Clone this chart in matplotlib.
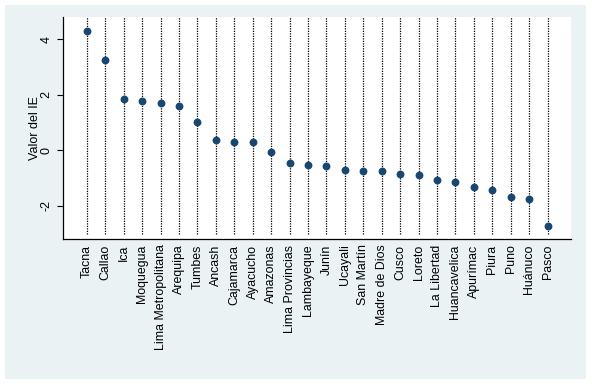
import matplotlib
matplotlib.use("Agg")
import matplotlib.pyplot as plt

regiones = ["Tacna", "Callao", "Ica", "Moquegua", "Lima Metropolitana", "Arequipa",
            "Tumbes", "Ancash", "Cajamarca", "Ayacucho", "Amazonas", "Lima Provincias",
            "Lambayeque", "Junín", "Ucayali", "San Martín", "Madre de Dios", "Cusco",
            "Loreto", "La Libertad", "Huancavelica", "Apurímac", "Piura", "Puno",
            "Huánuco", "Pasco"]
valores = [4.29, 3.25, 1.86, 1.77, 1.71, 1.58,
           1.01, 0.37, 0.31, 0.30, -0.06, -0.45,
           -0.52, -0.56, -0.72, -0.73, -0.74, -0.85,
           -0.90, -1.06, -1.15, -1.31, -1.42, -1.67,
           -1.74, -2.72]
yticks = [-2, 0, 2, 4]

plt.rcParams['font.family'] = ['Liberation Sans', 'DejaVu Sans']
W, H = 592, 384
fig = plt.figure(figsize=(W / 100, H / 100), dpi=100)
fig.patch.set_facecolor("white")
bg = "#EAF2F3"
bgax = fig.add_axes([5 / W, 1 - 379 / H, 581 / W, 374 / H], zorder=-5)
bgax.set_facecolor(bg)
bgax.set_xticks([])
bgax.set_yticks([])
for s in bgax.spines.values():
    s.set_visible(False)

ax = fig.add_axes([63 / W, 1 - 239 / H, (571 - 63) / W, (239 - 17) / H], zorder=1)
ax.set_facecolor("white")
ax.patch.set_linewidth(0)

ylo, yhi = -3.19, 4.795
x = list(range(len(regiones)))
ax.vlines(x, -3.0, yhi, colors="black", linestyles=(0, (1, 1)), linewidth=0.9, zorder=1)
ax.scatter(x, valores, s=32, color="#1A476F", zorder=3, linewidths=0)

ax.set_xlim(-1.29, 26.27)
ax.set_ylim(ylo, yhi)
ax.set_xticks(x)
ax.set_xticklabels(regiones, rotation=90, fontsize=8.9)
ax.tick_params(axis="x", length=0, pad=4)
ax.set_yticks(yticks)
ax.set_yticklabels([str(v) for v in yticks], rotation=90, va="center", fontsize=9)
ax.tick_params(axis="y", length=4.3, width=0.8, pad=3.2)
for s in ["top", "right"]:
    ax.spines[s].set_visible(False)
for s in ["left", "bottom"]:
    ax.spines[s].set_linewidth(0.9)
ax.set_ylabel("Valor del IE", fontsize=9, labelpad=0)

fig.savefig("out.png", dpi=100, facecolor="white")
